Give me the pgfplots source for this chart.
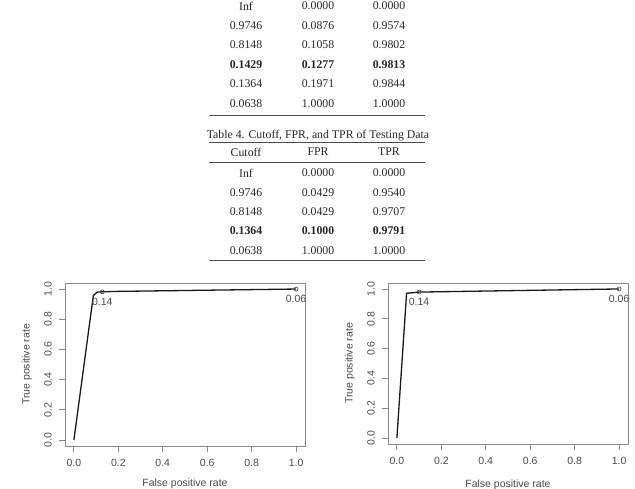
\documentclass[border=0pt]{standalone}
\usepackage{fontspec}
\setmainfont{Liberation Sans}
\newfontfamily\tabfont{Liberation Serif}
\usepackage{pgfplots}
\pgfplotsset{compat=1.18}
\definecolor{axgray}{HTML}{8A8A8A}
\definecolor{txtgray}{HTML}{4A4A4A}
\newcommand\tf{\tabfont\fontsize{11.8}{13}\selectfont}
\pgfplotsset{
  rocstyle/.style={
    scale only axis, width=240pt,
    xmin=-0.04, xmax=1.04, ymin=-0.04, ymax=1.04,
    xtick={0,0.2,0.4,0.6,0.8,1}, ytick={0,0.2,0.4,0.6,0.8,1},
    xticklabels={0.0,0.2,0.4,0.6,0.8,1.0},
    yticklabels={0.0,0.2,0.4,0.6,0.8,1.0},
    axis line style={axgray, line width=0.8pt},
    tick style={axgray, line width=0.8pt},
    tick align=outside, major tick length=6pt,
    xtick pos=bottom, ytick pos=left,
    tick label style={font=\fontsize{10.5}{12}\selectfont, text=txtgray},
    xticklabel style={anchor=center, yshift=-11pt},
    yticklabel style={xshift=-11pt, rotate=90, anchor=center},
    every axis x label/.style={at={(axis description cs:0.5,0)}, anchor=center, yshift=-37pt, font=\fontsize{10.5}{12}\selectfont, text=txtgray},
    every axis y label/.style={at={(axis description cs:0,0.5)}, xshift=-38pt, rotate=90, anchor=center, font=\fontsize{10.5}{12}\selectfont, text=txtgray},
    xlabel={False positive rate}, ylabel={True positive rate},
    clip=false,
  },
  cutmarks/.style={only marks, mark=o, mark size=2pt, mark options={black!75, line width=0.6pt},
    nodes near coords, point meta=explicit symbolic,
    every node near coord/.style={anchor=center, yshift=-10pt, font=\fontsize{10.5}{12}\selectfont, text=txtgray}},
}
\begin{document}
\begin{tikzpicture}[x=1pt,y=1pt]
\path[use as bounding box] (0,0) rectangle (635,489);
\clip (0,0) rectangle (635,489);
% ---- Table 3 (continued) ----
\begin{scope}[every node/.style={font=\tf, text=black!85, inner sep=0pt}]
\node at (246,483) {Inf};    \node at (318,483) {0.0000}; \node at (389,483) {0.0000};
\node at (246,463.5) {0.9746}; \node at (318,463.5) {0.0876}; \node at (389,463.5) {0.9574};
\node at (246,444) {0.8148}; \node at (318,444) {0.1058}; \node at (389,444) {0.9802};
\node[font=\tf\bfseries] at (246,424.5) {0.1429}; \node[font=\tf\bfseries] at (318,424.5) {0.1277}; \node[font=\tf\bfseries] at (389,424.5) {0.9813};
\node at (246,405) {0.1364}; \node at (318,405) {0.1971}; \node at (389,405) {0.9844};
\node at (246,385) {0.0638}; \node at (318,385) {1.0000}; \node at (389,385) {1.0000};
\draw[black!70, line width=0.9pt] (209,373.5) -- (425,373.5);
% ---- Table 4 ----
\node at (318,353) {Table 4. Cutoff, FPR, and TPR of Testing Data};
\draw[black!70, line width=0.9pt] (209,346.5) -- (425,346.5);
\node at (246,337) {Cutoff}; \node at (318,337) {FPR}; \node at (389,337) {TPR};
\draw[black!70, line width=0.7pt] (209,326.5) -- (425,326.5);
\node at (246,316) {Inf};    \node at (318,316) {0.0000}; \node at (389,316) {0.0000};
\node at (246,296.5) {0.9746}; \node at (318,296.5) {0.0429}; \node at (389,296.5) {0.9540};
\node at (246,277) {0.8148}; \node at (318,277) {0.0429}; \node at (389,277) {0.9707};
\node[font=\tf\bfseries] at (246,258) {0.1364}; \node[font=\tf\bfseries] at (318,258) {0.1000}; \node[font=\tf\bfseries] at (389,258) {0.9791};
\node at (246,238.5) {0.0638}; \node at (318,238.5) {1.0000}; \node at (389,238.5) {1.0000};
\draw[black!70, line width=0.9pt] (209,229) -- (425,229);
\end{scope}
% ---- Left ROC (training) ----
\begin{axis}[rocstyle, height=163pt, at={(65pt,43pt)}, anchor=south west, xlabel style={yshift=-1pt}]
\addplot[black!90, line width=1.3pt] coordinates {(0,0) (0.0876,0.9574) (0.1058,0.9802) (0.1277,0.9813) (0.1971,0.9844) (1,1)};
\addplot[cutmarks] coordinates {(0.1277,0.9813) [0.14] (1,1) [0.06]};
\end{axis}
% ---- Right ROC (testing) ----
\begin{axis}[rocstyle, height=161pt, at={(388pt,45pt)}, anchor=south west, xlabel style={yshift=-4pt}]
\addplot[black!90, line width=1.3pt] coordinates {(0,0) (0.0429,0.9540) (0.0429,0.9707) (0.1000,0.9791) (1,1)};
\addplot[cutmarks] coordinates {(0.1000,0.9791) [0.14] (1,1) [0.06]};
\end{axis}
\end{tikzpicture}
\end{document}
